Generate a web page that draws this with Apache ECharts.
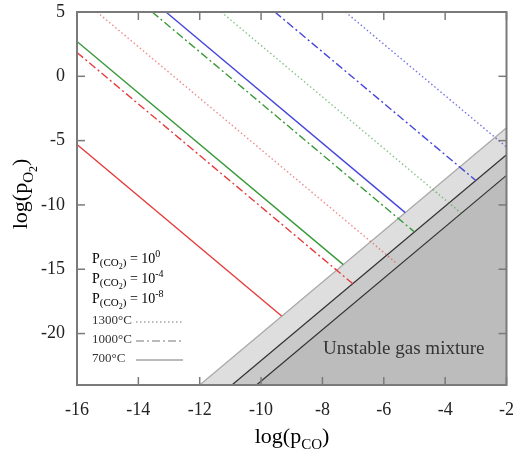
<!DOCTYPE html>
<html>
<head>
<meta charset="utf-8">
<script src="https://cdn.jsdelivr.net/npm/echarts@6/dist/echarts.min.js"></script>
<style>
  html, body { margin: 0; padding: 0; background: #fff; }
  #chart { width: 517px; height: 463px; }
</style>
</head>
<body>
<div id="chart"></div>
<script>
// axis ticks
var xTicks = [-16, -14, -12, -10, -8, -6, -4, -2];
var yTicks = [-20, -15, -10, -5, 0, 5];
var xRange = [-16, -2];
var yRange = [-24, 5];

// iso-pCO2 lines, endpoints [log pCO, log pO2]
var blue700 = [[-13.1, 5], [-5.3, -10.6]];
var green700 = [[-16, 2.7], [-7.32, -14.64]];
var red700 = [[-16, -5.3], [-9.33, -18.64]];
var blue1000 = [[-9.55, 5], [-3.0, -8.1]];
var green1000 = [[-13.55, 5], [-5.0, -12.1]];
var red1000 = [[-16, 1.85], [-7.0, -16.15]];
var blue1300 = [[-7.25, 5], [-2, -5.5]];
var green1300 = [[-11.3, 5], [-3.47, -10.66]];
var red1300 = [[-15.35, 5], [-5.6, -14.5]];

// stability limits (gray areas)
var limit700 = [[-12, -24], [-2, -4]];
var limit1000 = [[-10.95, -24], [-2, -6.1]];
var limit1300 = [[-10.15, -24], [-2, -7.7]];

var BLUE = "#4646dc", GREEN = "#3a9a3a", RED = "#e63c3c";
var FONT = "Liberation Serif";
var SOLID = "solid", DASHDOT = [8, 3, 2, 3], DOTTED = [1.5, 2.5];
var AXIS = "#7a7a7a";

// series order = drawing order: gray areas first, lines on top
function iso(data, color, type, op) {
    return {
        type: "line", data: data, symbol: "none",
        lineStyle: { color: color, width: 1.4, type: type, opacity: op }
    };
}
function limit(data, fill, stroke) {
    return {
        type: "line", data: data, symbol: "none",
        lineStyle: { color: stroke, width: 1.2 },
        areaStyle: { color: fill, opacity: 1, origin: "start" }
    };
}

var chart = echarts.init(document.getElementById("chart"));

var titleRich = {
    b: { fontFamily: FONT, fontSize: 22, color: "#222", lineHeight: 26 },
    s: { fontFamily: FONT, fontSize: 15, color: "#222", lineHeight: 26, verticalAlign: "bottom", padding: [0, 0, -3, 0] },
    t: { fontFamily: FONT, fontSize: 12, color: "#222", lineHeight: 26, verticalAlign: "bottom", padding: [0, 0, -6, 0] }
};

chart.setOption({
    animation: false,
    grid: { left: 77, right: 9, top: 12, bottom: 78 },
    xAxis: {
        type: "value", min: xRange[0], max: xRange[1], interval: 2,
        axisLine: { show: false, onZero: false }, axisTick: { show: false }, splitLine: { show: false },
        axisLabel: { margin: 16, fontFamily: FONT, fontSize: 18, color: "#222", customValues: xTicks }
    },
    yAxis: {
        type: "value", min: yRange[0], max: yRange[1],
        axisLine: { show: false, onZero: false }, axisTick: { show: false }, splitLine: { show: false },
        axisLabel: { margin: 12, fontFamily: FONT, fontSize: 18, color: "#222", customValues: yTicks }
    },
    series: [
        limit(limit700, "#dedede", "#a8a8a8"),
        limit(limit1000, "#c9c9c9", "#333"),
        limit(limit1300, "#bcbcbc", "#333"),
        iso(blue1300, BLUE, DOTTED, 0.75),
        iso(green1300, GREEN, DOTTED, 0.6),
        iso(red1300, RED, DOTTED, 0.6),
        iso(blue1000, BLUE, DASHDOT, 1),
        iso(green1000, GREEN, DASHDOT, 1),
        iso(red1000, RED, DASHDOT, 1),
        iso(blue700, BLUE, SOLID, 1),
        iso(green700, GREEN, SOLID, 1),
        iso(red700, RED, SOLID, 1)
    ]
});

// frame, inside ticks, titles, legend (frame placed through the axis scales)
var g = [];
var px = function (v) { return chart.convertToPixel({ xAxisIndex: 0 }, v); };
var py = function (v) { return chart.convertToPixel({ yAxisIndex: 0 }, v); };
var L = px(xRange[0]), R = px(xRange[1]), T = py(yRange[1]), B = py(yRange[0]);

g.push({
    type: "rect", z: 100,
    shape: { x: L, y: T, width: R - L, height: B - T },
    style: { fill: null, stroke: AXIS, lineWidth: 2 }
});
xTicks.forEach(function (v) {
    var x = px(v);
    g.push({ type: "line", z: 100, shape: { x1: x, y1: B, x2: x, y2: B - 8 }, style: { stroke: AXIS, lineWidth: 1.5 } });
    g.push({ type: "line", z: 100, shape: { x1: x, y1: T, x2: x, y2: T + 8 }, style: { stroke: AXIS, lineWidth: 1.5 } });
});
yTicks.forEach(function (v) {
    var y = py(v);
    g.push({ type: "line", z: 100, shape: { x1: L, y1: y, x2: L + 8, y2: y }, style: { stroke: AXIS, lineWidth: 1.5 } });
    g.push({ type: "line", z: 100, shape: { x1: R, y1: y, x2: R - 8, y2: y }, style: { stroke: AXIS, lineWidth: 1.5 } });
});

// axis titles
g.push({
    type: "text", x: 292, y: 437, z: 10,
    style: { text: "{b|log(p}{s|CO}{b|)}", rich: titleRich, align: "center", verticalAlign: "middle" }
});
g.push({
    type: "text", x: 21, y: 194, rotation: Math.PI / 2, z: 10,
    style: { text: "{b|log(p}{s|O}{t|2}{b|)}", rich: titleRich, align: "center", verticalAlign: "middle" }
});

// legend
var pRich = function (c) {
    return {
        p: { fontFamily: FONT, fontSize: 14, color: c, lineHeight: 16 },
        s: { fontFamily: FONT, fontSize: 11, color: c, lineHeight: 16, verticalAlign: "bottom", padding: [0, 0, -2, 0] },
        t: { fontFamily: FONT, fontSize: 8, color: c, lineHeight: 16, verticalAlign: "bottom", padding: [0, 0, -4, 0] },
        u: { fontFamily: FONT, fontSize: 10, color: c, lineHeight: 16, verticalAlign: "top", padding: [-2, 0, 0, 0] }
    };
};
var rows = [["0", BLUE, 257], ["-4", GREEN, 277], ["-8", RED, 297]];
rows.forEach(function (r) {
    g.push({
        type: "text", left: 92, top: r[2] - 8, z: 10,
        style: { text: "{p|P}{s|(CO}{t|2}{s|)}{p| = 10}{u|" + r[0] + "}", rich: pRich(r[1]) }
    });
});
var temps = [["1300°C", 322, DOTTED], ["1000°C", 341, DASHDOT], ["700°C", 360, SOLID]];
temps.forEach(function (t) {
    g.push({
        type: "text", left: 92, top: t[1] - 8, z: 10,
        style: { text: t[0], fontFamily: FONT, fontSize: 13, fill: "#333" }
    });
    g.push({
        type: "line", z: 10,
        shape: { x1: 136, y1: t[1], x2: 183, y2: t[1] },
        style: { stroke: "#777", lineWidth: 1, lineDash: t[2] === SOLID ? null : t[2] }
    });
});
g.push({
    type: "text", left: 323, top: 340, z: 10,
    style: { text: "Unstable gas mixture", fontFamily: FONT, fontSize: 19, fill: "#333" }
});

chart.setOption({ graphic: g });
</script>
</body>
</html>
